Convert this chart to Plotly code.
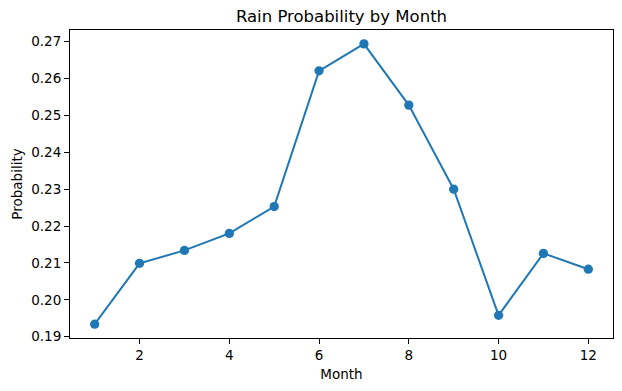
import plotly.graph_objects as go

months = [1, 2, 3, 4, 5, 6, 7, 8, 9, 10, 11, 12]
probability = [0.1934, 0.2099, 0.2134, 0.2180, 0.2253, 0.2621, 0.2694, 0.2528, 0.2300, 0.1958, 0.2126, 0.2083]
x_ticks = [2, 4, 6, 8, 10, 12]
y_ticks = [0.19, 0.20, 0.21, 0.22, 0.23, 0.24, 0.25, 0.26, 0.27]

font = "DejaVu Sans"
fig = go.Figure()
fig.add_trace(go.Scatter(
    x=months, y=probability, mode="lines+markers",
    line=dict(color="#1f77b4", width=2),
    marker=dict(color="#1f77b4", size=9.3),
    showlegend=False,
))

axis_common = dict(
    showline=True, linecolor="black", linewidth=1, mirror=True,
    ticks="outside", ticklen=5, tickwidth=1, tickcolor="black",
    showgrid=False, zeroline=False, automargin=False,
    tickfont=dict(family=font, size=13.5, color="black"),
)
fig.update_xaxes(range=[0.45, 12.55], tickvals=x_ticks, ticktext=[str(v) for v in x_ticks],
                 title=dict(text="Month", font=dict(family=font, size=13.5, color="black"), standoff=7),
                 **axis_common)
fig.update_yaxes(range=[0.18965, 0.27317], tickvals=y_ticks, ticktext=[f"{v:.2f}" for v in y_ticks],
                 title=dict(text="Probability", font=dict(family=font, size=13.5, color="black"), standoff=5),
                 **axis_common)
fig.update_layout(
    width=622, height=391,
    margin=dict(l=70, r=9, t=30, b=53),
    paper_bgcolor="white", plot_bgcolor="white",
    hovermode=False,
    title=dict(text="Rain Probability by Month", x=0.549, xanchor="center",
               y=1 - 16 / 391, yanchor="middle", yref="container",
               font=dict(family=font, size=16.5, color="black")),
)
fig.write_html("out.html", config={"displayModeBar": False, "staticPlot": True},
               post_script="document.body.style.margin='0px';")
